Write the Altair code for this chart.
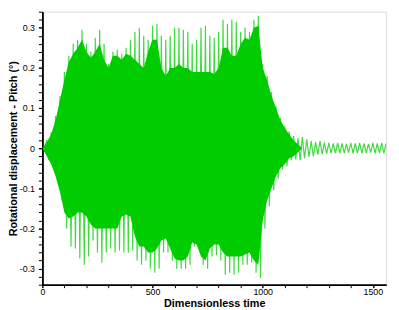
import altair as alt
import pandas as pd

# envelope sample times (dimensionless time)
t = list(range(0, 1561, 20))

# outer (peak) envelope, upper and lower, in degrees
outer_hi = [0, 0.02, 0.04, 0.08, 0.13, 0.19, 0.23, 0.26, 0.27, 0.295,
            0.26, 0.24, 0.275, 0.295, 0.26, 0.21, 0.24, 0.245, 0.235, 0.25,
            0.27, 0.29, 0.30, 0.28, 0.27, 0.305, 0.31, 0.28, 0.27, 0.28,
            0.30, 0.30, 0.295, 0.29, 0.26, 0.27, 0.30, 0.305, 0.28, 0.275,
            0.29, 0.32, 0.31, 0.32, 0.315, 0.29, 0.30, 0.29, 0.32, 0.33,
            0.21, 0.18, 0.14, 0.105, 0.075, 0.055, 0.042, 0.03, 0.025, 0.028,
            0.022, 0.018, 0.015, 0.018, 0.014, 0.013, 0.012, 0.013, 0.012, 0.011,
            0.013, 0.012, 0.013, 0.012, 0.011, 0.013, 0.012, 0.013, 0.012]
outer_lo = [0, -0.03, -0.045, -0.08, -0.13, -0.2, -0.245, -0.25, -0.275, -0.29,
            -0.27, -0.23, -0.26, -0.285, -0.26, -0.25, -0.26, -0.255, -0.26, -0.26,
            -0.255, -0.28, -0.29, -0.28, -0.30, -0.31, -0.30, -0.26, -0.26, -0.28,
            -0.30, -0.30, -0.30, -0.29, -0.245, -0.25, -0.29, -0.30, -0.27, -0.267,
            -0.28, -0.315, -0.31, -0.315, -0.31, -0.29, -0.29, -0.285, -0.31, -0.323,
            -0.20, -0.145, -0.105, -0.076, -0.053, -0.045, -0.03, -0.028, -0.03, -0.025,
            -0.022, -0.02, -0.016, -0.015, -0.014, -0.013, -0.012, -0.013, -0.012, -0.011,
            -0.013, -0.012, -0.013, -0.012, -0.011, -0.013, -0.012, -0.013, -0.012]

# dense (solid) core envelope
inner_hi = [0, 0.015, 0.035, 0.07, 0.12, 0.17, 0.215, 0.235, 0.25, 0.27,
            0.24, 0.225, 0.24, 0.26, 0.22, 0.2, 0.23, 0.23, 0.22, 0.235,
            0.23, 0.22, 0.21, 0.2, 0.24, 0.27, 0.27, 0.2, 0.18, 0.2,
            0.2, 0.21, 0.2, 0.2, 0.19, 0.19, 0.19, 0.19, 0.19, 0.185,
            0.2, 0.25, 0.25, 0.23, 0.23, 0.26, 0.275, 0.27, 0.3, 0.305,
            0.2, 0.17, 0.13, 0.1, 0.07, 0.05, 0.035, 0.02, 0.01, 0,
            0, 0, 0, 0, 0, 0, 0, 0, 0, 0,
            0, 0, 0, 0, 0, 0, 0, 0, 0]
inner_lo = [0, -0.02, -0.04, -0.07, -0.11, -0.16, -0.175, -0.17, -0.16, -0.16,
            -0.17, -0.19, -0.2, -0.2, -0.2, -0.2, -0.2, -0.2, -0.17, -0.165,
            -0.17, -0.22, -0.245, -0.245, -0.26, -0.26, -0.25, -0.23, -0.225, -0.25,
            -0.275, -0.28, -0.28, -0.27, -0.235, -0.24, -0.27, -0.28, -0.25, -0.24,
            -0.24, -0.26, -0.27, -0.27, -0.27, -0.27, -0.265, -0.26, -0.28, -0.29,
            -0.18, -0.13, -0.1, -0.07, -0.05, -0.04, -0.025, -0.02, -0.01, 0,
            0, 0, 0, 0, 0, 0, 0, 0, 0, 0,
            0, 0, 0, 0, 0, 0, 0, 0, 0]

x_ticks = list(range(0, 1501, 100))
x_labels = [0, 500, 1000, 1500]
y_ticks = [round(k * 0.02, 2) for k in range(-17, 18)]
y_labels = [-0.3, -0.2, -0.1, 0, 0.1, 0.2, 0.3]

# oscillation: alternating positive / negative peaks
rows = []
for ti, hi, lo in zip(t, outer_hi, outer_lo):
    rows.append({"t": ti, "v": hi})
    rows.append({"t": ti + 10, "v": lo})
osc = pd.DataFrame(rows)
core = pd.DataFrame({"t": t, "hi": inner_hi, "lo": inner_lo})

GREEN = "#00cc00"
FONT = "Liberation Sans"

xscale = alt.Scale(domain=[0, 1560], nice=False, zero=False)
yscale = alt.Scale(domain=[-0.34, 0.34], nice=False, zero=False)

common = dict(labelFont=FONT, labelFontSize=9, labelColor="black",
              tickColor="black", domainColor="black", domainWidth=1.5,
              grid=False, labelOverlap=False, labelFlush=False, labelBound=False)

# minor-tick axes (no labels)
xaxis_minor = alt.Axis(values=x_ticks, labels=False, title=None, tickSize=3,
                       orient="bottom", **common)
yaxis_minor = alt.Axis(values=y_ticks, labels=False, title=None, tickSize=4,
                       orient="left", **common)

# labelled axes
xaxis = alt.Axis(
    values=x_labels, format="d", orient="bottom",
    title="Dimensionless time", titleFont=FONT, titleFontSize=11, titleFontWeight="bold",
    titleColor="black", titleX=175, titleY=13, titleBaseline="top", titleAnchor="middle",
    labelPadding=0, tickSize=3, **common,
)
yaxis = alt.Axis(
    values=y_labels, orient="left",
    labelExpr="abs(datum.value) < 0.001 ? '0' : ((datum.value < 0 ? '-' : '') + format(abs(datum.value), '.1f'))",
    title="Rotational displacement - Pitch (°)", titleFont=FONT, titleFontSize=11,
    titleFontWeight="bold", titleColor="black", titleX=-35, titleY=139, titleBaseline="top",
    titleAngle=-90, titleAnchor="middle",
    labelPadding=4, tickSize=4, **common,
)

line = alt.Chart(osc).mark_line(color=GREEN, strokeWidth=1.2, opacity=0.75, clip=True).encode(
    x=alt.X("t:Q", scale=xscale, axis=xaxis),
    y=alt.Y("v:Q", scale=yscale, axis=yaxis),
)
area = alt.Chart(core).mark_area(color=GREEN, clip=True, opacity=1).encode(
    x=alt.X("t:Q", scale=xscale, axis=xaxis_minor),
    y=alt.Y("hi:Q", scale=yscale, axis=yaxis_minor),
    y2="lo:Q",
)

chart = alt.layer(line, area).resolve_axis(x="independent", y="independent").properties(
    width=350, height=278,
    autosize=alt.AutoSizeParams(type="none"),
    padding={"left": 35, "top": 1, "right": 5, "bottom": 23},
).configure_view(stroke="#888888", strokeWidth=2).configure(background="white")

chart.save("out.html", embed_options={"renderer": "svg", "actions": False})
